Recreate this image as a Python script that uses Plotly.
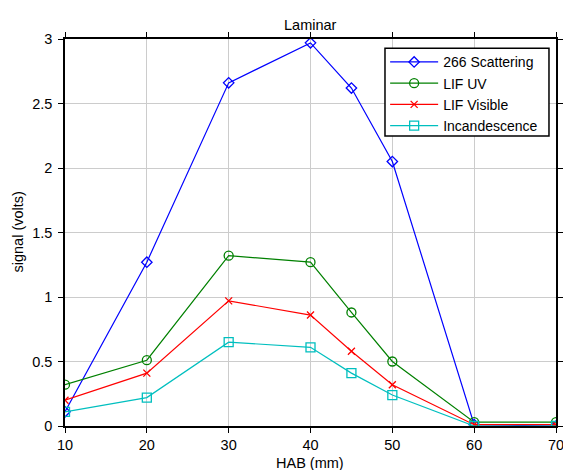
import plotly.graph_objects as go

# Height above burner (mm)
hab = [10, 20, 30, 40, 45, 50, 60, 70]

# Signals (volts)
scattering_266 = [0.11, 1.27, 2.66, 2.97, 2.62, 2.05, 0.01, 0.00]
lif_uv = [0.32, 0.51, 1.32, 1.27, 0.88, 0.50, 0.03, 0.03]
lif_visible = [0.20, 0.41, 0.97, 0.86, 0.58, 0.32, 0.01, 0.01]
incandescence = [0.11, 0.22, 0.65, 0.61, 0.41, 0.24, 0.00, 0.00]

series = [
    ("266 Scattering", scattering_266, "#0000ff", "diamond-open", 8),
    ("LIF UV", lif_uv, "#008000", "circle-open", 9),
    ("LIF Visible", lif_visible, "#ff0000", "x-thin-open", 7),
    ("Incandescence", incandescence, "#00bfbf", "square-open", 9),
]

x_ticks = [10, 20, 30, 40, 50, 60, 70]
y_ticks = [0, 0.5, 1, 1.5, 2, 2.5, 3]
y_tick_text = ["0", "0.5", "1", "1.5", "2", "2.5", "3"]

FONT = "Liberation Sans, Arial, sans-serif"

fig = go.Figure()
for name, values, color, symbol, size in series:
    fig.add_trace(go.Scatter(
        x=hab, y=values, name=name, mode="lines+markers",
        line=dict(color=color, width=1.2),
        marker=dict(symbol=symbol, size=size, color=color,
                    line=dict(color=color, width=1.3)),
    ))

axis_common = dict(
    showline=True, linecolor="black", linewidth=1.5, mirror="allticks",
    ticks="outside", ticklen=5, tickcolor="black", tickwidth=1,
    showgrid=True, gridcolor="#cccccc", gridwidth=1, automargin=False,
    ticklabeloverflow="allow",
    zeroline=False, tickfont=dict(family=FONT, size=14.5, color="black"),
)

fig.update_layout(
    width=563, height=470,
    margin=dict(l=65, r=7, t=39, b=44),
    paper_bgcolor="white", plot_bgcolor="white",
    font=dict(family=FONT, color="black"),
    showlegend=True,
    legend=dict(
        x=0.652, y=0.981, xanchor="left", yanchor="top",
        bgcolor="rgba(0,0,0,0)", borderwidth=0,
        font=dict(family=FONT, size=14, color="black"),
        itemwidth=48, tracegroupgap=0,
    ),
    # white legend frame with a black border
    shapes=[
        dict(type="rect", xref="paper", yref="paper",
             x0=0.6517, x1=0.9857, y0=0.7494, y1=0.976,
             line=dict(color="black", width=1.5), fillcolor="white",
             layer="above"),
    ],
    xaxis=dict(range=[10, 70], tickvals=x_ticks, **axis_common),
    yaxis=dict(range=[0, 3], tickvals=y_ticks, ticktext=y_tick_text,
               ticklabelstandoff=3, **axis_common),
    annotations=[
        dict(text="Laminar", xref="paper", yref="paper", x=0.4995, y=1,
             xanchor="center", yanchor="middle", yshift=14, showarrow=False,
             font=dict(family=FONT, size=14.5, color="black")),
        dict(text="HAB (mm)", xref="paper", yref="paper", x=0.4995, y=0,
             xanchor="center", yanchor="middle", yshift=-37, showarrow=False,
             font=dict(family=FONT, size=14.5, color="black")),
        dict(text="signal (volts)", xref="paper", yref="paper", x=0, y=0.5,
             xanchor="center", yanchor="middle", xshift=-48, textangle=-90,
             showarrow=False, font=dict(family=FONT, size=14.5, color="black")),
    ],
)

fig.write_html("out.html")
